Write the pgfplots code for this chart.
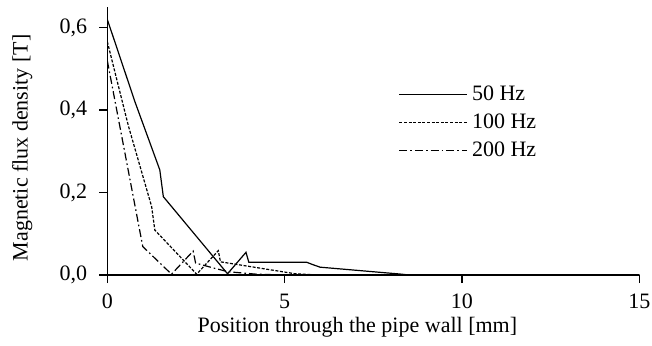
\documentclass[border=0pt]{standalone}
\usepackage{pgfplots}
\pgfplotsset{compat=1.18}
\usepackage{fontspec}
\setmainfont{Liberation Serif}
\begin{document}
\begin{tikzpicture}[font=\fontsize{11}{13}\selectfont]
\begin{axis}[
  scale only axis,
  width=266pt, height=134pt,
  xmin=0, xmax=15, ymin=0, ymax=0.65,
  axis lines=left,
  axis line style={-, line width=0.7pt},
  tick style={line width=0.7pt, black},
  tick align=outside,
  major tick length=4pt,
  xtick={0,5,10,15},
  ytick={0,0.2,0.4,0.6},
  /pgf/number format/assume math mode=true,
  yticklabel style={xshift=-2.5pt, /pgf/number format/fixed, /pgf/number format/fixed zerofill, /pgf/number format/precision=1, /pgf/number format/use comma},
  xticklabel style={yshift=-2pt},
  scaled y ticks=false,
  xlabel={Position through the pipe wall [mm]},
  ylabel={Magnetic flux density [T]},
  xlabel style={at={(axis description cs:0.47,-0.194)}, anchor=center},
  ylabel style={at={(axis description cs:-0.16,0.474)}, anchor=center},
  legend style={draw=none, fill=none, at={(axis cs:8.21,0.47)}, anchor=north west, row sep=1.25pt, inner sep=0pt},
  legend cell align=left,
  legend image code/.code={\draw[#1] (0pt,0pt) -- (34pt,0pt);},
]
\addplot[black, line width=0.6pt] coordinates {
(0,0.62)(0.78,0.42)(1.48,0.255)(1.58,0.19)(3.39,0.003)(3.91,0.055)(3.99,0.031)(5.62,0.031)(5.8,0.025)(6.0,0.019)(8.3,0.002)(8.5,0)(15,0)};
\addlegendentry{50 Hz}
\addplot[black, line width=0.6pt, dash pattern=on 1.5pt off 0.8pt] coordinates {
(0,0.566)(0.6,0.36)(1.25,0.166)(1.34,0.109)(2.52,0.002)(3.13,0.059)(3.19,0.032)(5.3,0.003)(6,0)(15,0)};
\addlegendentry{100 Hz}
\addplot[black, line width=0.6pt, dash pattern=on 4pt off 1.5pt on 0.8pt off 1.5pt] coordinates {
(0,0.52)(1.0,0.069)(1.81,0.002)(2.42,0.058)(2.49,0.029)(2.95,0.018)(3.4,0.008)(4.2,0.002)(5,0)(15,0)};
\addlegendentry{200 Hz}
\end{axis}
\pgfresetboundingbox
\path[use as bounding box] (-53.65pt,-35pt) rectangle (272.35pt,137.5pt);
\end{tikzpicture}
\end{document}
